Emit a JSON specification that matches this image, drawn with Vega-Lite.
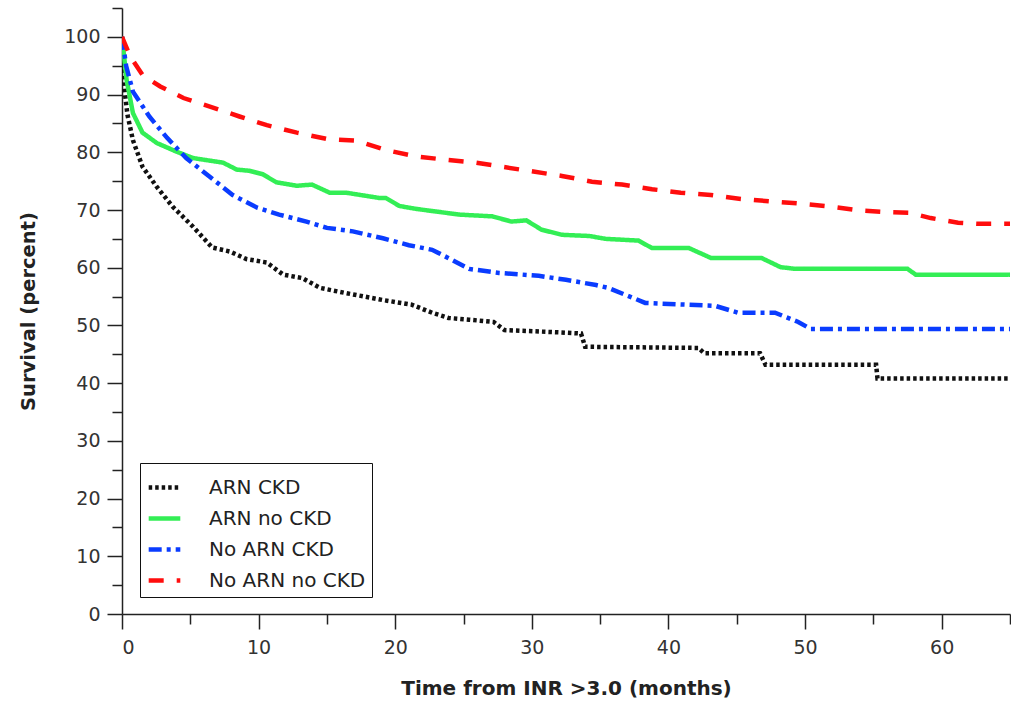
{
  "$schema": "https://vega.github.io/schema/vega-lite/v6.json",
  "autosize": "none",
  "width": 888,
  "height": 606,
  "padding": {"left": 122, "top": 8, "right": 1, "bottom": 94},
  "background": "white",
  "config": {
    "view": {"stroke": null},
    "font": "DejaVu Sans",
    "axis": {"grid": false, "domainColor": "#222", "domainWidth": 1.5, "tickColor": "#222", "tickWidth": 1.5, "labelFont": "DejaVu Sans", "labelFontSize": 19, "labelColor": "#333", "titleFont": "DejaVu Sans", "titleFontWeight": "bold", "titleColor": "#222"}
  },
  "data": {"values": [
    {"group": "ARN CKD", "t": 0, "s": 100},
    {"group": "ARN CKD", "t": 0.15, "s": 91.5},
    {"group": "ARN CKD", "t": 0.4, "s": 86.5},
    {"group": "ARN CKD", "t": 0.8, "s": 82.1},
    {"group": "ARN CKD", "t": 1.5, "s": 77.5},
    {"group": "ARN CKD", "t": 2.55, "s": 74},
    {"group": "ARN CKD", "t": 3.7, "s": 70.6},
    {"group": "ARN CKD", "t": 5.2, "s": 67.1},
    {"group": "ARN CKD", "t": 6.6, "s": 63.5},
    {"group": "ARN CKD", "t": 7.9, "s": 62.8},
    {"group": "ARN CKD", "t": 9.1, "s": 61.5},
    {"group": "ARN CKD", "t": 10.6, "s": 60.9},
    {"group": "ARN CKD", "t": 11.8, "s": 58.8},
    {"group": "ARN CKD", "t": 13.2, "s": 58.2},
    {"group": "ARN CKD", "t": 14.5, "s": 56.5},
    {"group": "ARN CKD", "t": 16.4, "s": 55.6},
    {"group": "ARN CKD", "t": 19.1, "s": 54.4},
    {"group": "ARN CKD", "t": 21.2, "s": 53.6},
    {"group": "ARN CKD", "t": 22.7, "s": 52.2},
    {"group": "ARN CKD", "t": 23.9, "s": 51.3},
    {"group": "ARN CKD", "t": 25.4, "s": 51},
    {"group": "ARN CKD", "t": 27.2, "s": 50.6},
    {"group": "ARN CKD", "t": 28, "s": 49.2},
    {"group": "ARN CKD", "t": 32, "s": 48.8},
    {"group": "ARN CKD", "t": 33.6, "s": 48.6},
    {"group": "ARN CKD", "t": 33.9, "s": 46.3},
    {"group": "ARN CKD", "t": 42.2, "s": 46.1},
    {"group": "ARN CKD", "t": 42.6, "s": 45.2},
    {"group": "ARN CKD", "t": 46.7, "s": 45.2},
    {"group": "ARN CKD", "t": 47.1, "s": 43.2},
    {"group": "ARN CKD", "t": 55.2, "s": 43.2},
    {"group": "ARN CKD", "t": 55.3, "s": 40.8},
    {"group": "ARN CKD", "t": 65, "s": 40.8},
    {"group": "ARN no CKD", "t": 0, "s": 100},
    {"group": "ARN no CKD", "t": 0.34, "s": 92.5},
    {"group": "ARN no CKD", "t": 0.8, "s": 86.8},
    {"group": "ARN no CKD", "t": 1.5, "s": 83.4},
    {"group": "ARN no CKD", "t": 2.55, "s": 81.6},
    {"group": "ARN no CKD", "t": 4, "s": 80.1},
    {"group": "ARN no CKD", "t": 5.2, "s": 79},
    {"group": "ARN no CKD", "t": 7.4, "s": 78.2},
    {"group": "ARN no CKD", "t": 8.4, "s": 77},
    {"group": "ARN no CKD", "t": 9.3, "s": 76.8},
    {"group": "ARN no CKD", "t": 10.3, "s": 76.2},
    {"group": "ARN no CKD", "t": 11.3, "s": 74.8},
    {"group": "ARN no CKD", "t": 12.8, "s": 74.2},
    {"group": "ARN no CKD", "t": 13.9, "s": 74.4},
    {"group": "ARN no CKD", "t": 15.2, "s": 73},
    {"group": "ARN no CKD", "t": 16.4, "s": 73},
    {"group": "ARN no CKD", "t": 18.8, "s": 72.1},
    {"group": "ARN no CKD", "t": 19.3, "s": 72.1},
    {"group": "ARN no CKD", "t": 20.3, "s": 70.7},
    {"group": "ARN no CKD", "t": 21.5, "s": 70.2},
    {"group": "ARN no CKD", "t": 24.7, "s": 69.2},
    {"group": "ARN no CKD", "t": 27.1, "s": 68.9},
    {"group": "ARN no CKD", "t": 28.5, "s": 68},
    {"group": "ARN no CKD", "t": 29.6, "s": 68.2},
    {"group": "ARN no CKD", "t": 30.7, "s": 66.6},
    {"group": "ARN no CKD", "t": 32.2, "s": 65.7},
    {"group": "ARN no CKD", "t": 34.2, "s": 65.5},
    {"group": "ARN no CKD", "t": 35.4, "s": 65},
    {"group": "ARN no CKD", "t": 37.8, "s": 64.7},
    {"group": "ARN no CKD", "t": 38.8, "s": 63.4},
    {"group": "ARN no CKD", "t": 41.5, "s": 63.4},
    {"group": "ARN no CKD", "t": 43.1, "s": 61.7},
    {"group": "ARN no CKD", "t": 46.8, "s": 61.7},
    {"group": "ARN no CKD", "t": 48.2, "s": 60.1},
    {"group": "ARN no CKD", "t": 49.3, "s": 59.8},
    {"group": "ARN no CKD", "t": 57.5, "s": 59.8},
    {"group": "ARN no CKD", "t": 58.1, "s": 58.8},
    {"group": "ARN no CKD", "t": 65, "s": 58.8},
    {"group": "No ARN CKD", "t": 0, "s": 100},
    {"group": "No ARN CKD", "t": 0.3, "s": 95},
    {"group": "No ARN CKD", "t": 0.8, "s": 90.5},
    {"group": "No ARN CKD", "t": 2.0, "s": 86.2},
    {"group": "No ARN CKD", "t": 3.3, "s": 82.5},
    {"group": "No ARN CKD", "t": 4.7, "s": 79},
    {"group": "No ARN CKD", "t": 6.4, "s": 75.8},
    {"group": "No ARN CKD", "t": 8.1, "s": 72.6},
    {"group": "No ARN CKD", "t": 9.9, "s": 70.4},
    {"group": "No ARN CKD", "t": 11.5, "s": 69.2},
    {"group": "No ARN CKD", "t": 13.5, "s": 68},
    {"group": "No ARN CKD", "t": 15, "s": 66.9},
    {"group": "No ARN CKD", "t": 16.9, "s": 66.3},
    {"group": "No ARN CKD", "t": 19.1, "s": 65.1},
    {"group": "No ARN CKD", "t": 21, "s": 63.9},
    {"group": "No ARN CKD", "t": 22.7, "s": 63.1},
    {"group": "No ARN CKD", "t": 24.2, "s": 61.3},
    {"group": "No ARN CKD", "t": 25.4, "s": 59.8},
    {"group": "No ARN CKD", "t": 27.6, "s": 59.1},
    {"group": "No ARN CKD", "t": 30.5, "s": 58.6},
    {"group": "No ARN CKD", "t": 32.5, "s": 57.9},
    {"group": "No ARN CKD", "t": 34.7, "s": 57},
    {"group": "No ARN CKD", "t": 35.6, "s": 56.5},
    {"group": "No ARN CKD", "t": 38.3, "s": 53.9},
    {"group": "No ARN CKD", "t": 43.4, "s": 53.4},
    {"group": "No ARN CKD", "t": 45.1, "s": 52.2},
    {"group": "No ARN CKD", "t": 47.8, "s": 52.2},
    {"group": "No ARN CKD", "t": 49.5, "s": 50.6},
    {"group": "No ARN CKD", "t": 50.4, "s": 49.4},
    {"group": "No ARN CKD", "t": 65, "s": 49.4},
    {"group": "No ARN no CKD", "t": 0, "s": 100},
    {"group": "No ARN no CKD", "t": 0.6, "s": 96.6},
    {"group": "No ARN no CKD", "t": 1.5, "s": 93.4},
    {"group": "No ARN no CKD", "t": 2.8, "s": 91.4},
    {"group": "No ARN no CKD", "t": 4.5, "s": 89.4},
    {"group": "No ARN no CKD", "t": 6.6, "s": 87.8},
    {"group": "No ARN no CKD", "t": 8.6, "s": 86.2},
    {"group": "No ARN no CKD", "t": 10.6, "s": 84.7},
    {"group": "No ARN no CKD", "t": 12.8, "s": 83.4},
    {"group": "No ARN no CKD", "t": 15, "s": 82.3},
    {"group": "No ARN no CKD", "t": 17.2, "s": 82},
    {"group": "No ARN no CKD", "t": 19.3, "s": 80.4},
    {"group": "No ARN no CKD", "t": 21.5, "s": 79.3},
    {"group": "No ARN no CKD", "t": 23.7, "s": 78.7},
    {"group": "No ARN no CKD", "t": 25.9, "s": 78.2},
    {"group": "No ARN no CKD", "t": 27.8, "s": 77.5},
    {"group": "No ARN no CKD", "t": 30, "s": 76.7},
    {"group": "No ARN no CKD", "t": 32.2, "s": 75.9},
    {"group": "No ARN no CKD", "t": 34.4, "s": 74.9},
    {"group": "No ARN no CKD", "t": 36.6, "s": 74.4},
    {"group": "No ARN no CKD", "t": 38.8, "s": 73.6},
    {"group": "No ARN no CKD", "t": 40.9, "s": 73},
    {"group": "No ARN no CKD", "t": 43.1, "s": 72.6},
    {"group": "No ARN no CKD", "t": 45.3, "s": 71.9},
    {"group": "No ARN no CKD", "t": 47.5, "s": 71.5},
    {"group": "No ARN no CKD", "t": 49.7, "s": 71.1},
    {"group": "No ARN no CKD", "t": 51.9, "s": 70.6},
    {"group": "No ARN no CKD", "t": 54.1, "s": 69.9},
    {"group": "No ARN no CKD", "t": 56.3, "s": 69.6},
    {"group": "No ARN no CKD", "t": 57.7, "s": 69.5},
    {"group": "No ARN no CKD", "t": 59.2, "s": 68.6},
    {"group": "No ARN no CKD", "t": 61.2, "s": 67.8},
    {"group": "No ARN no CKD", "t": 62.8, "s": 67.6},
    {"group": "No ARN no CKD", "t": 65, "s": 67.6}
  ]},
  "layer": [
    {
      "mark": {"type": "line", "strokeWidth": 4.5, "strokeCap": "butt", "clip": true},
      "encoding": {
        "x": {"field": "t", "type": "quantitative", "scale": {"domain": [0, 65], "nice": false, "zero": false},
          "axis": {"orient": "bottom", "values": [0, 10, 20, 30, 40, 50, 60], "tickSize": 15, "labelPadding": 9, "title": "Time from INR >3.0 (months)", "titleFontSize": 20, "titlePadding": 21}},
        "y": {"field": "s", "type": "quantitative", "scale": {"domain": [0, 105], "nice": false, "zero": false},
          "axis": {"orient": "left", "values": [0, 10, 20, 30, 40, 50, 60, 70, 80, 90, 100], "tickSize": 15, "labelPadding": 7, "title": "Survival (percent)", "titleFontSize": 19.5, "titlePadding": 25}},
        "color": {"field": "group", "type": "nominal",
          "scale": {"domain": ["ARN CKD", "ARN no CKD", "No ARN CKD", "No ARN no CKD"], "range": ["#111111", "#33ee55", "#0a3cff", "#ff0d0d"]},
          "legend": {"title": null, "orient": "none", "legendX": 18, "legendY": 455, "symbolType": "stroke", "symbolSize": 1000, "symbolStrokeWidth": 4.5, "labelFontSize": 20, "labelFont": "DejaVu Sans", "labelColor": "#222", "strokeColor": "#111", "padding": 6, "labelOffset": 26, "rowPadding": 2}},
        "strokeDash": {"field": "group", "type": "nominal",
          "scale": {"domain": ["ARN CKD", "ARN no CKD", "No ARN CKD", "No ARN no CKD"], "range": [[3.5, 3], [1, 0], [13, 5, 4, 5], [15, 13]]},
          "legend": {"title": null, "orient": "none", "legendX": 18, "legendY": 455, "symbolType": "stroke", "symbolSize": 1000, "symbolStrokeWidth": 4.5, "labelFontSize": 20, "labelFont": "DejaVu Sans", "labelColor": "#222", "strokeColor": "#111", "padding": 6, "labelOffset": 26, "rowPadding": 2}}
      }
    },
    {
      "mark": {"type": "line", "opacity": 0},
      "encoding": {
        "x": {"field": "t", "type": "quantitative", "scale": {"domain": [0, 65], "nice": false, "zero": false},
          "axis": {"orient": "bottom", "values": [5, 15, 25, 35, 45, 55, 65], "tickSize": 10, "labels": false, "domain": false, "title": null}},
        "y": {"field": "s", "type": "quantitative", "scale": {"domain": [0, 105], "nice": false, "zero": false},
          "axis": {"orient": "left", "values": [5, 15, 25, 35, 45, 55, 65, 75, 85, 95, 105], "tickSize": 10, "labels": false, "domain": false, "title": null}},
        "detail": {"field": "group"}
      }
    }
  ],
  "resolve": {"axis": {"x": "independent", "y": "independent"}}
}
